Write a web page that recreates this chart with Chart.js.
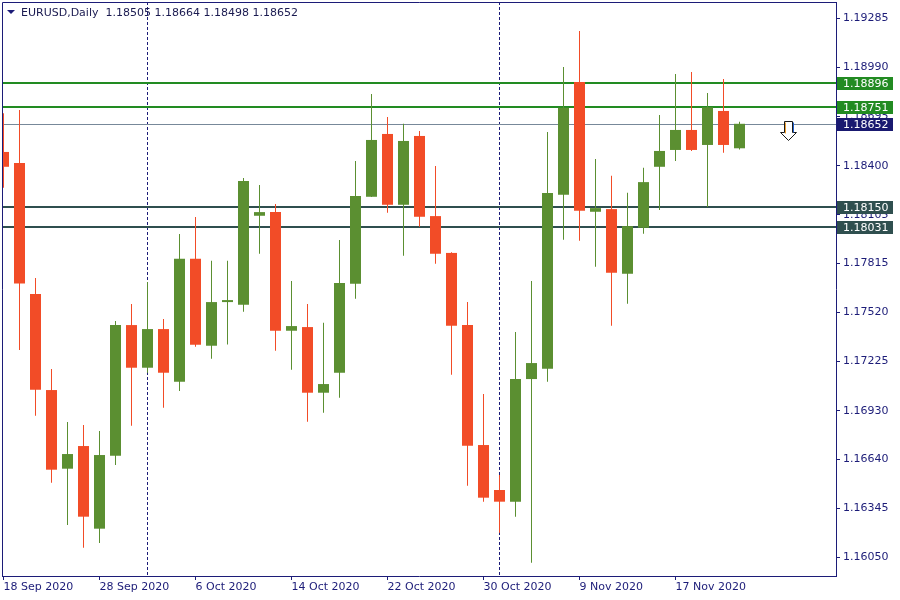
<!DOCTYPE html>
<html>
<head>
<meta charset="utf-8">
<script src="https://cdn.jsdelivr.net/npm/chart.js@4.4.1/dist/chart.umd.min.js"></script>
<style>
  html, body { margin: 0; padding: 0; background: #fff; }
  canvas { display: block; }
</style>
</head>
<body>
<canvas id="myChart" width="900" height="600"></canvas>
<script>
const symbol = 'EURUSD,Daily';

// daily candles, 18 Sep 2020 .. 23 Nov 2020
const opens = [1.18483, 1.18417, 1.17630, 1.17054, 1.16582, 1.16718, 1.16222, 1.16660, 1.17444, 1.17188,
  1.17420, 1.17104, 1.17842, 1.17320, 1.17582, 1.17566, 1.18100, 1.18122, 1.17410, 1.17432,
  1.17038, 1.17158, 1.17692, 1.18214, 1.18591, 1.18166, 1.18579, 1.18098, 1.17877, 1.17444,
  1.16724, 1.16454, 1.16384, 1.17120, 1.17182, 1.18226, 1.18903, 1.18124, 1.18140, 1.17752,
  1.18028, 1.18394, 1.18495, 1.18615, 1.18525, 1.18729, 1.18505];
const highs = [1.18715, 1.18735, 1.17726, 1.17180, 1.16862, 1.16844, 1.16808, 1.17468, 1.17570, 1.17702,
  1.17480, 1.17990, 1.18092, 1.17830, 1.17830, 1.18327, 1.18285, 1.18170, 1.17708, 1.17570,
  1.17458, 1.17954, 1.18429, 1.18831, 1.18693, 1.18652, 1.18609, 1.18399, 1.17881, 1.17582,
  1.17030, 1.16544, 1.17402, 1.17708, 1.18603, 1.18993, 1.19209, 1.18441, 1.18340, 1.18238,
  1.18388, 1.18705, 1.18951, 1.18963, 1.18837, 1.18921, 1.18664];
const lows = [1.18268, 1.17294, 1.16900, 1.16498, 1.16244, 1.16108, 1.16136, 1.16604, 1.16840, 1.17158,
  1.16948, 1.17048, 1.17314, 1.17242, 1.17328, 1.17524, 1.17872, 1.17290, 1.17176, 1.16864,
  1.16918, 1.17008, 1.17602, 1.18212, 1.18118, 1.17860, 1.18034, 1.17812, 1.17146, 1.16480,
  1.16384, 1.16198, 1.16294, 1.16018, 1.17104, 1.17956, 1.17950, 1.17794, 1.17440, 1.17572,
  1.17992, 1.18134, 1.18429, 1.18489, 1.18153, 1.18478, 1.18498];
const closes = [1.18394, 1.17693, 1.17056, 1.16576, 1.16670, 1.16294, 1.16664, 1.17444, 1.17188, 1.17420,
  1.17158, 1.17842, 1.17326, 1.17582, 1.17594, 1.18309, 1.18122, 1.17410, 1.17438, 1.17038,
  1.17090, 1.17696, 1.18219, 1.18555, 1.18166, 1.18549, 1.18094, 1.17872, 1.17440, 1.16720,
  1.16408, 1.16384, 1.17120, 1.17216, 1.18237, 1.18748, 1.18130, 1.18146, 1.17758, 1.18038,
  1.18302, 1.18489, 1.18615, 1.18495, 1.18751, 1.18525, 1.18652];

const dateIdx = [0, 6, 12, 18, 24, 30, 36, 42];
const dateLabels = ['18 Sep 2020', '28 Sep 2020', '6 Oct 2020', '14 Oct 2020', '22 Oct 2020', '30 Oct 2020', '9 Nov 2020', '17 Nov 2020'];
const monthStarts = [9, 31];
const priceTicks = [1.19285, 1.18990, 1.18695, 1.18400, 1.18105, 1.17815, 1.17520, 1.17225, 1.16930, 1.16640, 1.16345, 1.16050];

const levels = [1.18896, 1.18751, 1.18150, 1.18031];
const levelColors = ['#228b22', '#228b22', '#2f4f4f', '#2f4f4f'];
const bidPrice = closes[closes.length - 1];
const arrowAt = { x: 49, y: 1.18664 };

const ink = '#1c1c78';
const upColor = '#5b8f31';
const downColor = '#f24c27';

const bodies = opens.map((o, i) => ({ x: i, y: [o, closes[i]] }));
const wicks = lows.map((l, i) => ({ x: i, y: [l, highs[i]] }));
const candleColors = opens.map((o, i) => closes[i] >= o ? upColor : downColor);

Chart.defaults.font.family = 'DejaVu Sans';
Chart.defaults.font.size = 11;

// no extra room for half labels, the frame sits tight like the terminal
const noPad = s => { s.paddingTop = 0; s.paddingBottom = 0; s.paddingLeft = 0; s.paddingRight = 0; };

// separators, levels and bid line sit behind the candles
const backLines = {
  id: 'backLines',
  beforeDatasetsDraw(chart) {
    const { ctx, chartArea: a, scales: { x, y } } = chart;
    ctx.save();
    ctx.lineWidth = 1;
    ctx.strokeStyle = ink;
    ctx.setLineDash([3, 2]);
    monthStarts.forEach(i => {
      const px = Math.floor(x.getPixelForValue(i)) + 0.5;
      ctx.beginPath();
      ctx.moveTo(px, a.top);
      ctx.lineTo(px, a.bottom);
      ctx.stroke();
    });
    ctx.setLineDash([]);
    ctx.strokeStyle = '#778899';
    let py = Math.round(y.getPixelForValue(bidPrice)) + 0.5;
    ctx.beginPath();
    ctx.moveTo(a.left, py);
    ctx.lineTo(a.right, py);
    ctx.stroke();
    ctx.lineWidth = 2;
    levels.forEach((v, i) => {
      py = Math.round(y.getPixelForValue(v));
      ctx.strokeStyle = levelColors[i];
      ctx.beginPath();
      ctx.moveTo(a.left, py);
      ctx.lineTo(a.right, py);
      ctx.stroke();
    });
    ctx.restore();
  }
};

const overlay = {
  id: 'overlay',
  afterDraw(chart) {
    const { ctx, chartArea: a, scales: { x, y } } = chart;
    ctx.save();
    // frame left/top
    ctx.strokeStyle = ink;
    ctx.lineWidth = 1;
    ctx.beginPath();
    ctx.moveTo(a.left + 0.5, a.bottom);
    ctx.lineTo(a.left + 0.5, a.top + 0.5);
    ctx.lineTo(a.right, a.top + 0.5);
    ctx.stroke();

    // price boxes on the axis
    ctx.font = '11px DejaVu Sans';
    ctx.textBaseline = 'middle';
    ctx.textAlign = 'left';
    const box = (v, color) => {
      const py = Math.round(y.getPixelForValue(v));
      ctx.fillStyle = color;
      ctx.fillRect(a.right + 1, py - 6, 56, 13);
      ctx.fillStyle = '#fff';
      ctx.fillText(v.toFixed(5), a.right + 7, py + 1);
    };
    levels.forEach((v, i) => { if (i >= 2) box(v, levelColors[i]); });
    levels.forEach((v, i) => { if (i < 2) box(v, levelColors[i]); });
    box(bidPrice, '#191970');

    // title
    ctx.fillStyle = ink;
    ctx.beginPath();
    ctx.moveTo(7, 10);
    ctx.lineTo(15, 10);
    ctx.lineTo(11, 14);
    ctx.closePath();
    ctx.fill();
    const last = opens.length - 1;
    const ohlc = [opens[last], highs[last], lows[last], closes[last]].map(v => v.toFixed(5)).join(' ');
    ctx.fillStyle = '#1a1a50';
    ctx.fillText(symbol + '  ' + ohlc, 21, 13);

    // sell arrow
    const cx = Math.round(x.getPixelForValue(arrowAt.x)) + 0.5;
    const ty = Math.round(y.getPixelForValue(arrowAt.y)) - 0.5;
    ctx.beginPath();
    ctx.moveTo(cx - 4, ty);
    ctx.lineTo(cx + 4, ty);
    ctx.lineTo(cx + 4, ty + 11);
    ctx.lineTo(cx + 8, ty + 11);
    ctx.lineTo(cx, ty + 19);
    ctx.lineTo(cx - 8, ty + 11);
    ctx.lineTo(cx - 4, ty + 11);
    ctx.closePath();
    ctx.fillStyle = '#fff';
    ctx.fill();
    ctx.strokeStyle = '#1a1a1a';
    ctx.stroke();
    ctx.strokeStyle = '#f0a030';
    ctx.beginPath();
    ctx.moveTo(cx - 3, ty + 12);
    ctx.lineTo(cx - 3, ty + 1);
    ctx.stroke();
    ctx.strokeStyle = '#2060d0';
    ctx.beginPath();
    ctx.moveTo(cx + 5, ty + 1);
    ctx.lineTo(cx + 5, ty + 11);
    ctx.stroke();
    ctx.restore();
  }
};

new Chart(document.getElementById('myChart'), {
  type: 'bar',
  data: {
    datasets: [{
      label: 'body',
      data: bodies,
      backgroundColor: candleColors,
      barThickness: 11,
      order: 0
    }, {
      label: 'wick',
      data: wicks,
      backgroundColor: candleColors,
      barThickness: 1,
      order: 1
    }]
  },
  options: {
    responsive: false,
    animation: false,
    layout: { padding: { left: 2, top: 2, right: 0, bottom: 0 } },
    datasets: {
      bar: { grouped: false, borderWidth: 0, inflateAmount: 0 }
    },
    plugins: {
      legend: { display: false },
      tooltip: { enabled: false }
    },
    scales: {
      x: {
        type: 'linear',
        min: -0.09375,
        max: 52.03125,
        offset: false,
        afterBuildTicks: s => { s.ticks = dateIdx.map(v => ({ value: v })); },
        afterFit: s => { s.height = 24; noPad(s); },
        grid: { offset: false, drawOnChartArea: false, drawTicks: true, tickLength: 4, color: ink },
        border: { display: true, color: ink, width: 1 },
        ticks: {
          color: ink,
          align: 'start',
          padding: 1,
          maxRotation: 0,
          autoSkip: false,
          callback: v => dateLabels[dateIdx.indexOf(v)]
        }
      },
      y: {
        position: 'right',
        min: 1.15938,
        max: 1.19383,
        afterBuildTicks: s => { s.ticks = priceTicks.map(v => ({ value: v })); },
        afterFit: s => { s.width = 64; noPad(s); },
        grid: { drawOnChartArea: false, drawTicks: true, tickLength: 4, color: ink },
        border: { display: true, color: ink, width: 1 },
        ticks: {
          color: ink,
          padding: 3,
          autoSkip: false,
          callback: v => v.toFixed(5)
        }
      }
    }
  },
  plugins: [backLines, overlay]
});
</script>
</body>
</html>
